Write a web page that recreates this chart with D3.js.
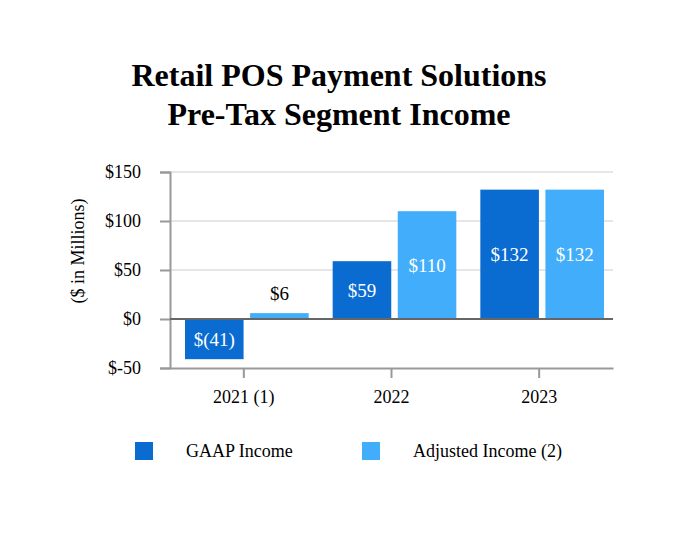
<!DOCTYPE html>
<html>
<head>
<meta charset="utf-8">
<script src="https://cdn.jsdelivr.net/npm/d3@7"></script>
<style>
  body { margin: 0; background: #fff; }
  svg text { font-family: "Liberation Serif", "Times New Roman", serif; }
</style>
</head>
<body>
<svg id="chart" width="678" height="536"></svg>
<script>
// === DATA ===
const years = ["2021 (1)", "2022", "2023"];
const gaapIncome = [-41, 59, 132];
const adjustedIncome = [6, 110, 132];
const seriesNames = ["GAAP Income", "Adjusted Income (2)"];
const yTicks = [-50, 0, 50, 100, 150];

const colors = ["#0a6cd1", "#42aefb"];
const margin = { top: 172, right: 65, bottom: 168, left: 170 };
const width = 678 - margin.left - margin.right;
const height = 536 - margin.top - margin.bottom;

const svg = d3.select("#chart");

// === TITRE ===
const title = svg.append("text")
  .attr("x", 339)
  .attr("text-anchor", "middle")
  .style("font-size", "32px")
  .style("font-weight", "bold");
title.append("tspan").attr("x", 339).attr("y", 86).text("Retail POS Payment Solutions");
title.append("tspan").attr("x", 339).attr("y", 125).text("Pre-Tax Segment Income");

const g = svg.append("g")
  .attr("transform", `translate(${margin.left},${margin.top})`);

const x0 = d3.scaleBand().domain(years).range([0, width]).paddingInner(0).paddingOuter(0);
const x1 = d3.scaleBand().domain(seriesNames).range([15, x0.bandwidth() - 9]).paddingInner(0.1);
const y = d3.scaleLinear().domain([-50, 150]).range([height, 0]);

// grille
g.append("g")
  .selectAll("line")
  .data(yTicks.filter(d => d > 0))
  .enter()
  .append("line")
  .attr("x1", 0)
  .attr("x2", width)
  .attr("y1", d => y(d))
  .attr("y2", d => y(d))
  .attr("stroke", "#e6e6e6")
  .attr("stroke-width", 2);

// axe Y
const yAxis = g.append("g")
  .call(d3.axisLeft(y).tickValues(yTicks).tickSize(10).tickFormat(d => "$" + d));
yAxis.select(".domain").attr("stroke", "#999").attr("stroke-width", 2);
yAxis.selectAll(".tick line").attr("stroke", "#999").attr("stroke-width", 2);
yAxis.selectAll("text")
  .style("font-size", "18px")
  .style("font-family", "Liberation Serif, serif")
  .attr("fill", "#000")
  .attr("x", -29);

// axe X (en bas)
const xAxis = g.append("g")
  .attr("transform", `translate(0,${height})`)
  .call(d3.axisBottom(x0).tickSize(10).tickSizeOuter(0));
xAxis.select(".domain").attr("stroke", "#999").attr("stroke-width", 2);
xAxis.selectAll(".tick line").attr("stroke", "#999").attr("stroke-width", 2);
xAxis.selectAll("text")
  .style("font-size", "18px")
  .style("font-family", "Liberation Serif, serif")
  .attr("fill", "#000")
  .attr("dy", "1.2em");

// label axe Y
svg.append("text")
  .attr("transform", "rotate(-90)")
  .attr("x", -251)
  .attr("y", 84)
  .attr("text-anchor", "middle")
  .style("font-size", "18px")
  .text("($ in Millions)");

// === BARRES ===
const rows = years.map((yr, i) => ({ year: yr, values: [gaapIncome[i], adjustedIncome[i]] }));

const groups = g.selectAll(".year-group")
  .data(rows)
  .enter()
  .append("g")
  .attr("transform", d => `translate(${x0(d.year)},0)`);

groups.selectAll("rect")
  .data(d => d.values.map((v, k) => ({ key: seriesNames[k], value: v, k })))
  .enter()
  .append("rect")
  .attr("x", d => x1(d.key))
  .attr("width", x1.bandwidth())
  .attr("y", d => y(Math.max(0, d.value)))
  .attr("height", d => Math.abs(y(d.value) - y(0)))
  .attr("fill", d => colors[d.k]);

const fmt = v => v < 0 ? "$(" + Math.abs(v) + ")" : "$" + v;

groups.selectAll(".val")
  .data(d => d.values.map((v, k) => ({ key: seriesNames[k], value: v, k })))
  .enter()
  .append("text")
  .attr("x", d => x1(d.key) + x1.bandwidth() / 2)
  .attr("y", d => {
    const h = Math.abs(y(d.value) - y(0));
    if (h < 25) return y(Math.max(0, d.value)) - 13;
    return (y(d.value) + y(0)) / 2 + 7;
  })
  .attr("text-anchor", "middle")
  .style("font-size", "19px")
  .attr("fill", d => Math.abs(y(d.value) - y(0)) < 25 ? "#000" : "#fff")
  .text(d => fmt(d.value));

// ligne zéro
g.append("line")
  .attr("x1", 0)
  .attr("x2", width)
  .attr("y1", y(0))
  .attr("y2", y(0))
  .attr("stroke", "#666")
  .attr("stroke-width", 2);

// === LÉGENDE ===
const legendX = [135, 362];
const legend = svg.selectAll(".legend")
  .data(seriesNames)
  .enter()
  .append("g")
  .attr("transform", (d, i) => `translate(${legendX[i]},442)`);

legend.append("rect")
  .attr("width", 18)
  .attr("height", 18)
  .attr("fill", (d, i) => colors[i]);

legend.append("text")
  .attr("x", 51)
  .attr("y", 15)
  .style("font-size", "18px")
  .text(d => d);
</script>
</body>
</html>
